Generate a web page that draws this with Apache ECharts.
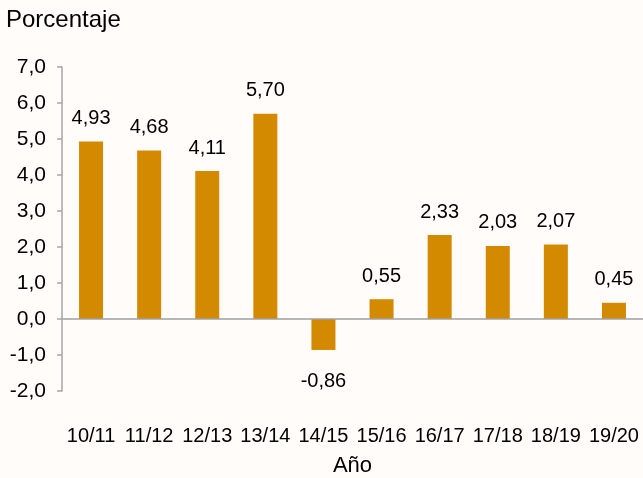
<!DOCTYPE html>
<html>
<head>
<meta charset="utf-8">
<script src="https://cdn.jsdelivr.net/npm/echarts@6/dist/echarts.min.js"></script>
<style>
html,body{margin:0;padding:0;background:#FFFCFA;}
#chart{width:643px;height:478px;}
</style>
</head>
<body>
<div id="chart"></div>
<script>
const categories = ['10/11','11/12','12/13','13/14','14/15','15/16','16/17','17/18','18/19','19/20'];
const values = [4.93, 4.68, 4.11, 5.70, -0.86, 0.55, 2.33, 2.03, 2.07, 0.45];
const yTicks = [-2, -1, 0, 1, 2, 3, 4, 5, 6, 7];

const fmt = (v, d) => v.toFixed(d).replace('.', ',');
const font = 'Liberation Sans, Arial, sans-serif';

const chart = echarts.init(document.getElementById('chart'));
chart.setOption({
  backgroundColor: '#FFFCFA',
  animation: false,
  title: {
    text: 'Porcentaje', left: 1, top: 3,
    textStyle: {fontFamily: font, fontSize: 24, fontWeight: 'normal', color: '#000'}
  },
  grid: {left: 62, right: 0, top: 67, bottom: 87, containLabel: false, outerBoundsMode: 'none'},
  xAxis: {
    type: 'category',
    data: categories,
    position: 'bottom',
    axisLine: {show: false, onZero: false},
    axisTick: {show: false},
    axisLabel: {interval: 0, margin: 35, fontFamily: font, fontSize: 20, color: '#000'},
    name: 'Año', nameLocation: 'middle', nameGap: 64,
    nameTextStyle: {fontFamily: font, fontSize: 22, color: '#000'}
  },
  yAxis: {
    type: 'value',
    min: yTicks[0], max: yTicks[yTicks.length - 1], interval: 1,
    axisLine: {show: true, lineStyle: {color: '#A6A6A6', width: 1.5}},
    axisTick: {show: true, inside: false, length: 5, lineStyle: {color: '#A6A6A6', width: 1.5}},
    splitLine: {show: false},
    axisLabel: {margin: 16, fontFamily: font, fontSize: 21, color: '#000', formatter: v => fmt(v, 1)}
  },
  series: [{
    type: 'bar',
    barWidth: 24,
    itemStyle: {color: '#D38A00'},
    data: values.map(v => ({
      value: v,
      label: v < 0 ? {position: 'bottom', distance: 22} : {position: 'top', distance: 13}
    })),
    label: {
      show: true,
      fontFamily: font, fontSize: 20, color: '#000',
      formatter: p => fmt(p.value, 2)
    },
    markLine: {
      silent: true, symbol: 'none', label: {show: false},
      lineStyle: {color: '#A0A0A0', width: 1.5, type: 'solid'},
      data: [{yAxis: 0}]
    }
  }]
});
</script>
</body>
</html>
